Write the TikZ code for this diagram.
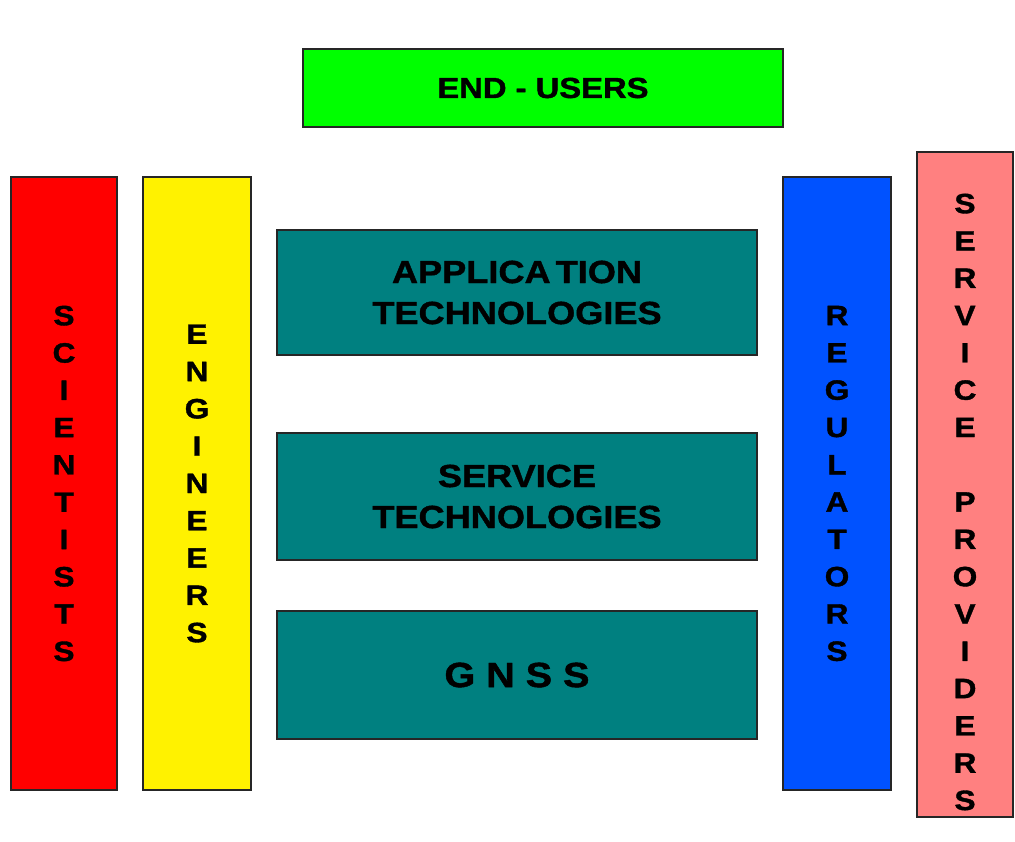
\documentclass[tikz,border=0pt]{standalone}
\usepackage{fontspec}
\setmainfont[FakeStretch=1.13,BoldFeatures={FakeBold=1.3}]{Liberation Sans}
\usetikzlibrary{positioning}
\definecolor{grn}{RGB}{0,255,0}
\definecolor{tl}{RGB}{0,128,128}
\definecolor{blu}{RGB}{0,82,255}
\definecolor{slm}{RGB}{255,128,128}
\tikzset{
  box/.style={draw=black!85,line width=1.3pt,rectangle,inner sep=0pt,align=center},
  col/.style={box,minimum width=106,minimum height=613,font=\bfseries\fontsize{28}{37.3}\selectfont},
  layer/.style={box,fill=tl,minimum width=480,minimum height=126,font=\bfseries\fontsize{32}{41}\selectfont}
}

\begin{document}
\begin{tikzpicture}[x=1pt,y=-1pt]
     \useasboundingbox (0,0) rectangle (1015,841);
     \node[box,fill=grn,minimum width=480,minimum height=78,font=\bfseries\fontsize{29}{35}\selectfont] at (543,88) (users) {END - USERS};
     \node[col,fill=red] at (64,483.5) (sci) {S\\C\\I\\E\\N\\T\\I\\S\\T\\S};
     \node[col,fill=yellow,minimum width=108] at (197,483.5) (eng) {E\\N\\G\\I\\N\\E\\E\\R\\S};
     \node[layer,minimum height=125] at (517,292.5) (app) {APPLICA\kern5pt TION\\TECHNOLOGIES};
     \node[layer,minimum height=127] at (517,496.5) (srv) {SERVICE\\TECHNOLOGIES};
     \node[layer,minimum height=128,font=\bfseries\fontsize{35}{41}\selectfont] at (517,675) (gnss) {G N S S};
     \node[col,fill=blu,minimum width=108] at (837,483.5) (reg) {R\\E\\G\\U\\L\\A\\T\\O\\R\\S};
     \node[col,fill=slm,minimum width=96,minimum height=665] at (965,484.5) (prov) {};
     \node[align=center,inner sep=0pt,font=\bfseries\fontsize{28}{37.3}\selectfont] at (965,502) (provtxt)
          {S\\E\\R\\V\\I\\C\\E\\[37.3pt]P\\R\\O\\V\\I\\D\\E\\R\\S};
\end{tikzpicture}
\end{document}
